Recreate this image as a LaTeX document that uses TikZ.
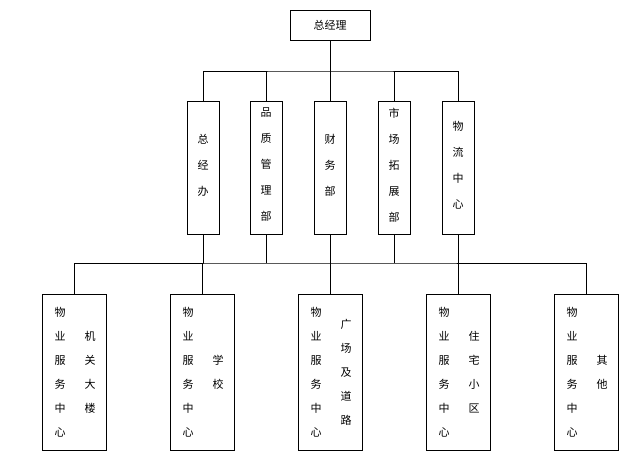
\documentclass[tikz,border=0pt]{standalone}
\usepackage{fontspec}
\setmainfont{Noto Sans CJK SC}
\begin{document}
\begin{tikzpicture}[x=1pt,y=-1pt,
  box/.style={draw,line width=0.8pt,inner sep=0pt},
  ln/.style={line width=0.8pt},
  t/.style={font=\fontsize{11}{24}\selectfont,align=center,inner sep=0pt}]
\useasboundingbox (0,0) rectangle (633,468);
\node[box,minimum width=80,minimum height=30,font=\fontsize{11}{13}\selectfont] (top) at (330,25) {总经理};
\foreach \n/\x/\txt in {a/203/总\\经\\办, b/266/品\\质\\管\\理\\部, c/330/财\\务\\部, d/394/市\\场\\拓\\展\\部, e/458/物\\流\\中\\心}{
  \node[box,minimum width=32,minimum height=133] (\n) at (\x,167.5) {};
  \node[t,font=\fontsize{11}{26}\selectfont] at (\x,165) {\txt};
}
\foreach \n/\x/\txt in {p/74/机\\关\\大\\楼, q/202/学\\校, r/330/广\\场\\及\\道\\路, s/458/住\\宅\\小\\区, u/586/其\\他}{
  \node[box,minimum width=64,minimum height=156] (\n) at (\x,372) {};
  \node[t] at (\x-14,372) {物\\业\\服\\务\\中\\心};
  \node[t] at (\x+16,372) {\txt};
}
\coordinate (j1) at (330,71);
\draw[ln] (top.south) -- (j1);
\draw[ln] (a.north) |- (j1) -| (e.north);
\draw[ln] (b.north) -- (266,71);
\draw[ln] (c.north) -- (j1);
\draw[ln] (d.north) -- (394,71);
\coordinate (j2) at (330,263);
\draw[ln] (p.north) |- (j2) -| (u.north);
\foreach \n in {a,b,c,d,e}{\draw[ln] (\n.south) -- (\n.south |- j2);}
\foreach \n in {q,r,s}{\draw[ln] (\n.north) -- (\n.north |- j2);}
\end{tikzpicture}
\end{document}
